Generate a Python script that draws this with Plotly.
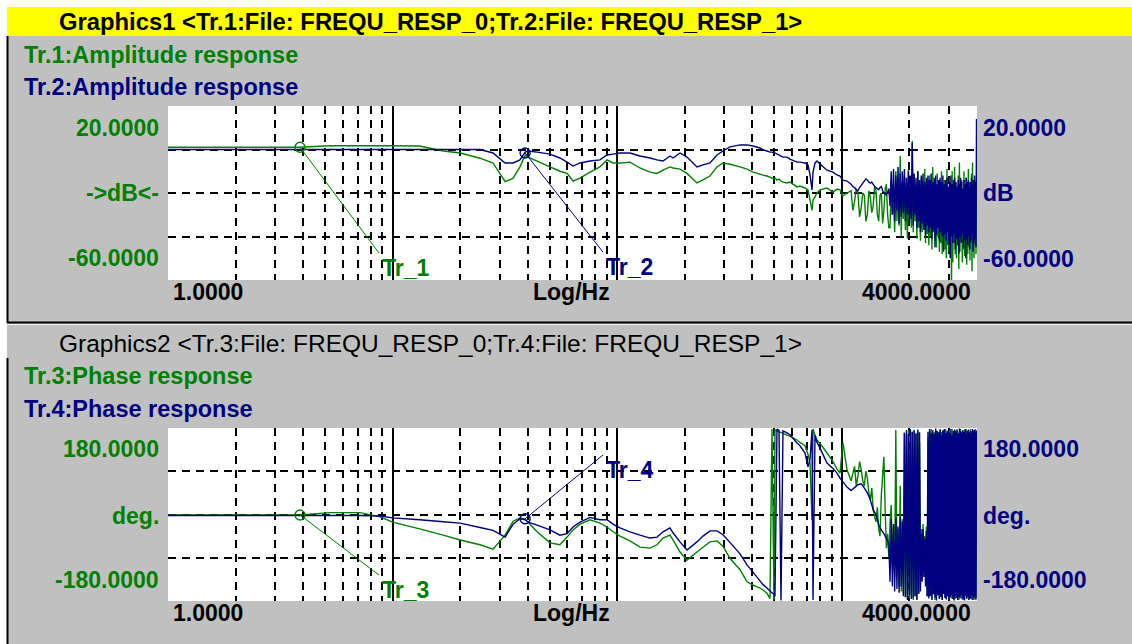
import math
import plotly.graph_objects as go

# ---------------- data ----------------
freq_low = [1.0, 1.39, 2.0, 3.0, 3.87, 5.26, 7.16, 8.79, 10.0, 13.2,
            16.8, 20.0, 24.5, 28.0, 31.7, 34.4, 36.9, 38.9, 40.1, 44.0,
            50.2, 55.6, 59.8, 63.6, 68.3, 75.7, 83.8, 90.1, 95.8, 102.9,
            114.0, 126.3, 140.0, 150.4, 160.0, 171.8, 177.2, 190.4, 204.5, 226.6,
            241.0, 258.9, 278.2, 295.8, 317.8, 352.2, 378.5, 402.4, 432.3, 445.9,
            464.5, 478.9, 488.9, 499.0, 504.2, 514.6, 525.3, 536.2, 547.3, 570.2,
            588.1, 631.7, 651.3, 685.9, 707.3, 722.0, 737.0, 744.6, 759.9, 775.7,
            799.8, 859.3, 913.8, 952.0, 981.6, 1012, 1055]
freq_high = [1100, 1140, 1180, 1220, 1260, 1300, 1340, 1380, 1420, 1460,
             1500, 1540, 1580, 1620, 1660, 1700, 1740, 1780, 1820, 1860,
             1900, 1940, 1980, 2020, 2060, 2100, 2140, 2180, 2220, 2260,
             2300, 2340, 2380, 2420, 2460, 2500, 2540, 2580, 2620, 2660,
             2700, 2740, 2780, 2820, 2860, 2900, 2940, 2980, 3020, 3060,
             3100, 3140, 3180, 3220, 3260, 3300, 3340, 3380, 3420, 3460,
             3500, 3540, 3580, 3620, 3660, 3700, 3740, 3780, 3820, 3860,
             3900, 3940, 3980]
freq_high_mid = [1120, 1160, 1200, 1240, 1280, 1320, 1360, 1400, 1440, 1480,
                 1520, 1560, 1600, 1640, 1680, 1720, 1760, 1800, 1840, 1880,
                 1920, 1960, 2000, 2040, 2080, 2120, 2160, 2200, 2240, 2280,
                 2320, 2360, 2400, 2440, 2480, 2520, 2560, 2600, 2640, 2680,
                 2720, 2760, 2800, 2840, 2880, 2920, 2960, 3000, 3040, 3080,
                 3120, 3160, 3200, 3240, 3280, 3320, 3360, 3400, 3440, 3480,
                 3520, 3560, 3600, 3640, 3680, 3720, 3760, 3800, 3840, 3880,
                 3920, 3960]

amp_tr1_low = [1, 1, 1, 1, 1, 1.7, 1.7, 1.7, 1.7, 1.6,
               -0.7, -1.6, -4, -6.2, -14.8, -13.2, -8, -2.6, -3.5, -5.3,
               -8, -10, -11, -14.5, -13.2, -10.4, -8, -4.8, -6.2, -6.2,
               -5.8, -8.5, -10.4, -11, -9.5, -8, -8.5, -9, -11, -15.4,
               -14, -12.2, -8, -6.2, -6.8, -8, -9, -10.4, -11.3, -11.8,
               -12.2, -12.7, -13.2, -13.6, -13, -14.1, -13.6, -14.5, -15, -15.4,
               -15, -17.2, -16.8, -17.7, -18.6, -23.2, -28, -23.2, -21.8, -20,
               -18.6, -17.7, -19.6, -18.2, -18.6, -21.4, -20]
amp_tr1_high = [-19, -24, -20, -27, -21, -30, -22, -26, -19, -33, -20, -28, -16, -36,
                -14, -20, -10, -18, -3, -15, -12, -20, -9, -16,
                4, -14, -18, -10, -20, -13, -17, -9, -19, -14,
                -12, -18, -8, -16, -20, -11, -15, -19, -10, -17,
                -14, -20, -9, -18, -13, -16, -10, -19, -8, -15,
                -18, -12, -6, -17, -14, -20, -10, -16, -13, -19,
                -9, -15, -18, -11, -6, -17, -14, -19, -16]
amp_tr1_mid = [-28, -18, -31, -20, -33, -19, -29, -17, -30, -21, -34, -18, -30,
               -36, -30, -38, -33, -35, -40, -32, -37, -41, -34,
               -36, -38, -33, -41, -36, -42, -38, -35, -43, -39,
               -44, -40, -46, -38, -42, -45, -40, -47, -43, -48,
               -41, -46, -50, -44, -47, -45, -62, -52, -43, -48,
               -50, -44, -55, -47, -42, -52, -46, -49, -44, -53,
               -48, -45, -51, -43, -56, -46, -50, -44, -48]

amp_tr2_low = [0, 0, 0, 0, 0, 0, 0, 0, 0, 0,
               0, 0, 0, -1.6, -6.2, -6.2, -4.8, -1.2, -0.7, -1.2,
               -2.1, -3.9, -5.8, -7.6, -6.2, -5.3, -4.8, -2.5, -2.1, -1.6,
               -1.6, -3.0, -3.9, -4.8, -5.3, -3.0, -3.9, -1.6, -3.5, -8.0,
               -7.1, -6.2, -2.5, -0.7, 1.2, 2.1, 2.1, 1.6, 0.7, -0.2,
               -0.7, -1.2, -1.2, -1.6, -1.6, -2.1, -2.5, -3.0, -3.5, -3.5,
               -4.4, -5.8, -5.8, -6.2, -7.1, -11.7, -18.6, -10.4, -6.2, -5.3,
               -6.7, -9.5, -10.4, -11.7, -12.2, -14.1, -14.5]
amp_tr2_high = [-16, -17.5, -19, -16.5, -14.5, -14, -15.5, -16, -17.5, -18.5, -17, -20, -21, -18,
                -10, -9, -12, -8, -11, -10, -9, -13, -10, -12,
                3, -11, -13, -10, -14, -12, -11, -15, -13, -12,
                -14, -11, -15, -13, -12, -16, -14, -13, -15, -12,
                -16, -14, -13, -17, -15, -12, -16, -14, -13, -15,
                -17, -14, -16, -13, -15, -18, -14, -16, -13, -15,
                -14, -17, -15, -13, -16, -14, -12, -15, 14]
amp_tr2_mid = [-17, -18.5, -17.5, -15.5, -13.5, -15, -15, -17, -18, -17.5, -19, -20.5, -19.5,
               -26, -30, -33, -28, -34, -31, -29, -33, -30, -34,
               -32, -35, -30, -36, -33, -38, -34, -37, -40, -35,
               -38, -36, -41, -37, -45, -39, -36, -42, -38, -40,
               -47, -39, -42, -38, -44, -50, -40, -43, -39, -46,
               -41, -44, -48, -40, -43, -39, -45, -42, -50, -41,
               -44, -40, -46, -42, -39, -47, -43, -41, -45]

phase_tr3_low = [-1, -1, -1, -1, -1, 4, 4, -5, -16, -30,
                 -43, -53, -63, -72, -43, -14, -7, -9, -16, -36,
                 -59, -63, -47, -32, -20, -11, -18, -26, -36, -45,
                 -55, -68, -70, -63, -49, -43, -53, -78, -95, -78,
                 -68, -57, -55, -66, -91, -115, -140, -147, -153, -157,
                 -164, -175, 178, -178, 176, 174, 172, 171, 169, 165,
                 163, 155, 150, 143, 125, 107, -12, 178, 165, 155,
                 148, 128, 110, 95, 86, 149, 93]
phase_tr3_high = [70, 100, 80, 95, 60, 75, 30, 10, -15, -30, 40, 120, -70, -90,
                  20, -20, 176, -30, 60, -10, 170, 165, 175, 170,
                  172, 176, 168, 174, 150,
                  -30, -20, -45, -25,
                  160, 174, 178, 168, 172, 176, 165, 170, 178, 172,
                  176, 170, 178, 168, 174, 176, 120, 178, 170, 174,
                  175, 178, 170, 166, 178, 172, 174, 168, 176, 178,
                  170, 175, 172, 178, 174, 170, 176, 173, 178, 170]
phase_tr3_mid = [85, 60, 110, 70, 90, 45, 55, -5, 15, -45, 80, 10, -40,
                 -20, -110, -130, -100, -150, -160, -165, -172, -170, -175,
                 -168, -178, -170, -176, -165, -120,
                 -100, -90, -95, -170,
                 -170, -160, -175, -165, -178, -170, -168, -175, -172, -178,
                 -165, -170, -175, -168, -178, -172, -175, -170, -178, -176,
                 -160, -172, -178, -170, -174, -168, -178, -175, -170, -176,
                 -172, -178, -175, -168, -178, -170, -175, -178, -172]

phase_tr4_low = [-2, -2, -2, -2, -2, -2, -2, -3, -7, -11,
                 -15, -18, -27, -33, -47, -20, -9, -11, -16, -22,
                 -32, -43, -40, -26, -16, -6, -11, -11, -20, -28,
                 -36, -43, -49, -47, -36, -28, -38, -57, -74, -57,
                 -45, -34, -34, -42, -58, -82, -105, -120, -138, -146,
                 -153, -159, -163, -166, -170, 178, 175, -179, 174, 170,
                 166, 149, 143, 128, 99, 115, 176, -178, 165, 150,
                 138, 107, 96, 86, 76, 68, 57]
phase_tr4_high = [50, 56, 62, 64, 55, 45, 30, 10, 0, -22, -32, -40, -50, -60,
                  -10, -20, -8, -25, -5, -15,
                  170, 176, 168, 178, 172, 175, 169, 177, 171,
                  -40, -30, -50, -35,
                  172, 178, 170, 176, 168, 179, 174, 171, 177, 165,
                  175, 178, 169, 173, 176, 170, 178, 166, 174, 177,
                  171, 175, 168, 179, 173, 170, 176, 172, 178, 167,
                  174, 177, 170, 175, 169, 178, 172, 176, 171, 175]
phase_tr4_mid = [53, 59, 63, 60, 50, 38, 20, 5, -11, -27, -36, -45, -55,
                 -140, -150, -160, -155, -163, -150, -170,
                 -172, -178, -168, -176, -174, -170, -178, -165,
                 -160,
                 -140, -130, -150, -170,
                 -175, -170, -178, -166, -173, -179, -168, -176, -171, -178,
                 -165, -174, -177, -170, -178, -172, -167, -176, -179, -169,
                 -174, -178, -171, -175, -168, -177, -173, -179, -166, -175,
                 -170, -178, -172, -176, -169, -178, -174, -170, -177]


def interleave(a, b):
    out = []
    for i, v in enumerate(a):
        out.append(v)
        if i < len(b):
            out.append(b[i])
    return out


freq = freq_low + interleave(freq_high, freq_high_mid)
amp_tr1 = amp_tr1_low + interleave(amp_tr1_high, amp_tr1_mid)
amp_tr2 = amp_tr2_low + interleave(amp_tr2_high, amp_tr2_mid)
phase_tr3 = phase_tr3_low + interleave(phase_tr3_high, phase_tr3_mid)
phase_tr4 = phase_tr4_low + interleave(phase_tr4_high, phase_tr4_mid)

# cursors: circle position and leader-line end
cursor_amp_labels = ["Tr_1", "Tr_2"]
cursor_amp_freq = [3.87, 38.9]
cursor_amp_val = [1.0, -1.6]
cursor_amp_end_freq = [8.7, 86.5]
cursor_amp_end_val = [-47.6, -47.2]

cursor_ph_labels = ["Tr_3", "Tr_4"]
cursor_ph_freq = [3.87, 38.9]
cursor_ph_val = [-1, -9]
cursor_ph_end_freq = [8.7, 86.5]
cursor_ph_end_val = [-126, 124]

GREEN = "#008000"
NAVY = "#000080"
W, H = 1132, 644
FONT = "Liberation Sans"
FS = 23


def px(x):
    return x / W


def py(y):
    return 1 - y / H


minor_vals = [m * 10 ** d for d in range(0, 4) for m in range(2, 10) if m * 10 ** d < 4000]

fig = go.Figure()

for yv, col, xa, ya in [(amp_tr1, GREEN, "x", "y"), (amp_tr2, NAVY, "x", "y"),
                        (phase_tr3, GREEN, "x2", "y2"), (phase_tr4, NAVY, "x2", "y2")]:
    fig.add_trace(go.Scatter(x=freq, y=yv, mode="lines",
                             line=dict(color=col, width=1.4, simplify=False),
                             xaxis=xa, yaxis=ya, showlegend=False))

annotations = []
cursor_sets = [
    (cursor_amp_labels, cursor_amp_freq, cursor_amp_val, cursor_amp_end_freq, cursor_amp_end_val, "x", "y"),
    (cursor_ph_labels, cursor_ph_freq, cursor_ph_val, cursor_ph_end_freq, cursor_ph_end_val, "x2", "y2"),
]
for labels, cf, cv, ef, ev, xa, ya in cursor_sets:
    for i, lab in enumerate(labels):
        col = GREEN if i == 0 else NAVY
        fig.add_trace(go.Scatter(x=[cf[i], ef[i]], y=[cv[i], ev[i]], mode="lines",
                                 line=dict(color=col, width=1), xaxis=xa, yaxis=ya, showlegend=False))
        fig.add_trace(go.Scatter(x=[cf[i]], y=[cv[i]], mode="markers",
                                 marker=dict(symbol="circle-open", size=10, color=col, line=dict(width=1.4)),
                                 xaxis=xa, yaxis=ya, showlegend=False))
        annotations.append(dict(x=math.log10(ef[i]), y=ev[i], xref=xa, yref=ya, text="<b>" + lab + "</b>",
                                showarrow=False, xanchor="left", yanchor="top", xshift=1,
                                font=dict(family=FONT, size=FS, color=col)))


def txt(x, y, s, color, anchor="left", size=FS):
    annotations.append(dict(x=px(x), y=py(y), xref="paper", yref="paper", text=s, showarrow=False,
                            xanchor=anchor, yanchor="middle",
                            font=dict(family=FONT, size=size, color=color)))


# headers
txt(57, 21, "<b>Graphics1 &lt;Tr.1:File: FREQU_RESP_0;Tr.2:File: FREQU_RESP_1&gt;</b>", "black", size=23.8)
txt(22, 55, "<b>Tr.1:Amplitude response</b>", GREEN, size=23.5)
txt(22, 87, "<b>Tr.2:Amplitude response</b>", NAVY, size=23.5)
txt(57, 343, "Graphics2 &lt;Tr.3:File: FREQU_RESP_0;Tr.4:File: FREQU_RESP_1&gt;", "black", size=24.5)
txt(22, 376, "<b>Tr.3:Phase response</b>", GREEN, size=23.5)
txt(22, 409, "<b>Tr.4:Phase response</b>", NAVY, size=23.5)

# y labels
txt(161, 128, "<b>20.0000</b>", GREEN, "right")
txt(161, 193, "<b>-&gt;dB&lt;-</b>", GREEN, "right")
txt(161, 258, "<b>-60.0000</b>", GREEN, "right")
txt(981, 128, "<b>20.0000</b>", NAVY)
txt(981, 193, "<b>dB</b>", NAVY)
txt(981, 259, "<b>-60.0000</b>", NAVY)
txt(161, 449, "<b>180.0000</b>", GREEN, "right")
txt(161, 516, "<b>deg.</b>", GREEN, "right")
txt(161, 580, "<b>-180.0000</b>", GREEN, "right")
txt(981, 449, "<b>180.0000</b>", NAVY)
txt(981, 516, "<b>deg.</b>", NAVY)
txt(981, 580, "<b>-180.0000</b>", NAVY)

# x labels
for yy in (292, 613):
    txt(171, yy, "<b>1.0000</b>", "black")
    txt(571, yy, "<b>Log/Hz</b>", "black", "center")
    txt(973, yy, "<b>4000.0000</b>", "black", "right")

shapes = [
    dict(type="rect", xref="paper", yref="paper", x0=0, x1=px(7), y0=0, y1=1,
         fillcolor="white", line=dict(width=0), layer="below"),
    dict(type="rect", xref="paper", yref="paper", x0=0, x1=1, y0=py(7), y1=1,
         fillcolor="white", line=dict(width=0), layer="below"),
    dict(type="rect", xref="paper", yref="paper", x0=px(7), x1=1, y0=py(36), y1=py(7),
         fillcolor="#FFFF00", line=dict(width=0), layer="below"),
    dict(type="line", xref="paper", yref="paper", x0=px(7.5), x1=px(7.5), y0=py(36), y1=py(323),
         line=dict(color="black", width=2)),
    dict(type="line", xref="paper", yref="paper", x0=px(7), x1=1, y0=py(322.5), y1=py(322.5),
         line=dict(color="black", width=2)),
    dict(type="line", xref="paper", yref="paper", x0=px(7), x1=1, y0=py(324.5), y1=py(324.5),
         line=dict(color="#F0F0F0", width=1)),
    dict(type="line", xref="paper", yref="paper", x0=px(7.5), x1=px(7.5), y0=py(358), y1=0,
         line=dict(color="black", width=2)),
]

xcommon = dict(type="log", range=[0, math.log10(4000)], domain=[px(168), px(977)],
               tickvals=[10, 100, 1000], showticklabels=False, ticks="",
               showgrid=True, gridcolor="black", gridwidth=1.6,
               minor=dict(tickvals=minor_vals, showgrid=True, gridcolor="black",
                          griddash="8px,6px", gridwidth=1.5, ticks=""),
               zeroline=False, showline=False, fixedrange=True)
ycommon = dict(showticklabels=False, ticks="", showgrid=True, gridcolor="black",
               griddash="8px,6px", gridwidth=1.5, zeroline=False, showline=False, fixedrange=True)

fig.update_layout(
    width=W, height=H,
    margin=dict(l=0, r=0, t=0, b=0),
    paper_bgcolor="#C0C0C0",
    plot_bgcolor="white",
    showlegend=False,
    xaxis=dict(xcommon, anchor="y"),
    yaxis=dict(ycommon, range=[-60, 20], tickvals=[0, -20, -40],
               domain=[py(280), py(106)], anchor="x"),
    xaxis2=dict(xcommon, anchor="y2"),
    yaxis2=dict(ycommon, range=[-180, 180], tickvals=[90, 0, -90],
                domain=[py(601), py(428)], anchor="x2"),
    annotations=annotations,
    shapes=shapes,
)

fig.write_html("out.html")
